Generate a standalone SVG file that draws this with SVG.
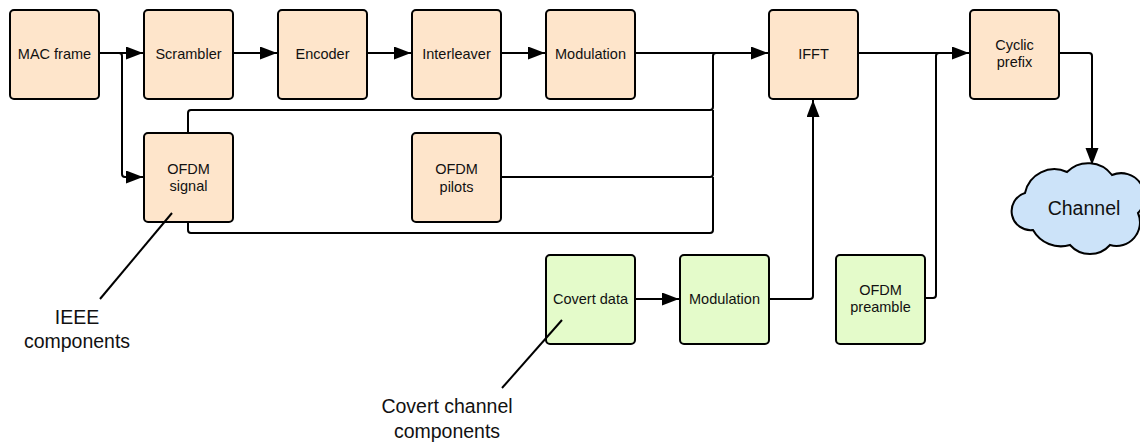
<svg xmlns="http://www.w3.org/2000/svg" width="1140" height="443" viewBox="0 0 1140 443">
  <style>
    .box { stroke: #000; stroke-width: 2; }
    .ieee { fill: #fee5cb; }
    .covert { fill: #e4fbca; }
    .cloud { fill: #cce3f9; stroke: #000; stroke-width: 2; }
    .lbl { font-family: "Liberation Sans", Arial, sans-serif; font-size: 14.5px; fill: #111; text-anchor: middle; }
    .note { font-family: "Liberation Sans", Arial, sans-serif; font-size: 19.5px; fill: #111; text-anchor: middle; }
    .wire { fill: none; stroke: #000; stroke-width: 2; }
    .arrow { marker-end: url(#head); }
  </style>
  <defs>
    <marker id="head" markerUnits="userSpaceOnUse" markerWidth="18" markerHeight="14" refX="17" refY="6.5" orient="auto">
      <path d="M0,0 L17,6.5 L0,13 z" fill="#000"/>
    </marker>
  </defs>
  <rect width="1140" height="443" fill="#fff"/>

  <!-- signal paths -->
  <g id="connectors">
    <path class="wire arrow" d="M99 53 H143"/>
    <path class="wire arrow" d="M99 53 H119 Q122 53 122 56 V174 Q122 177 125 177 H143"/>
    <path class="wire arrow" d="M233 53 H277"/>
    <path class="wire arrow" d="M367 53 H411"/>
    <path class="wire arrow" d="M501 53 H545"/>
    <path class="wire arrow" d="M635 53 H768"/>
    <path class="wire" d="M188 133 V113 Q188 110 191 110 H710 Q713 110 713 107 V56 Q713 53 716 53 H740"/>
    <path class="wire" d="M501 177 H710 Q713 177 713 174 V110"/>
    <path class="wire" d="M188 222 V230 Q188 233 191 233 H710 Q713 233 713 230 V177"/>
    <path class="wire arrow" d="M858 53 H969"/>
    <path class="wire" d="M926 298 H933 Q936 298 936 295 V56 Q936 53 939 53 H950"/>
    <path class="wire arrow" d="M1059 53 H1089 Q1092 53 1092 56 V165"/>
    <path class="wire arrow" d="M635 299 H679"/>
    <path class="wire arrow" d="M769 299 H810 Q813 299 813 296 V100"/>
  </g>

  <g id="mac-frame">
    <rect class="box ieee" x="10" y="10" width="89" height="89" rx="4"/>
    <text class="lbl" x="54.5" y="58.5">MAC frame</text>
  </g>
  <g id="scrambler">
    <rect class="box ieee" x="144" y="10" width="89" height="89" rx="4"/>
    <text class="lbl" x="188.5" y="58.5">Scrambler</text>
  </g>
  <g id="encoder">
    <rect class="box ieee" x="278" y="10" width="89" height="89" rx="4"/>
    <text class="lbl" x="322.5" y="58.5">Encoder</text>
  </g>
  <g id="interleaver">
    <rect class="box ieee" x="412" y="10" width="89" height="89" rx="4"/>
    <text class="lbl" x="456.5" y="58.5">Interleaver</text>
  </g>
  <g id="modulation">
    <rect class="box ieee" x="546" y="10" width="89" height="89" rx="4"/>
    <text class="lbl" x="590.5" y="58.5">Modulation</text>
  </g>
  <g id="ifft">
    <rect class="box ieee" x="769" y="10" width="89" height="89" rx="4"/>
    <text class="lbl" x="813.5" y="58.5">IFFT</text>
  </g>
  <g id="cyclic-prefix">
    <rect class="box ieee" x="970" y="10" width="89" height="89" rx="4"/>
    <text class="lbl" x="1014.5" y="49.5">Cyclic</text>
    <text class="lbl" x="1014.5" y="66.5">prefix</text>
  </g>
  <g id="ofdm-signal">
    <rect class="box ieee" x="144" y="133" width="89" height="89" rx="4"/>
    <text class="lbl" x="188.5" y="174">OFDM</text>
    <text class="lbl" x="188.5" y="191">signal</text>
  </g>
  <g id="ofdm-pilots">
    <rect class="box ieee" x="412" y="133" width="89" height="89" rx="4"/>
    <text class="lbl" x="456.5" y="174">OFDM</text>
    <text class="lbl" x="456.5" y="191.5">pilots</text>
  </g>
  <g id="covert-data">
    <rect class="box covert" x="546" y="255" width="89" height="89" rx="4"/>
    <text class="lbl" x="590.5" y="304">Covert data</text>
  </g>
  <g id="covert-modulation">
    <rect class="box covert" x="680" y="255" width="89" height="89" rx="4"/>
    <text class="lbl" x="724.5" y="304">Modulation</text>
  </g>
  <g id="ofdm-preamble">
    <rect class="box covert" x="836" y="255" width="89" height="89" rx="4"/>
    <text class="lbl" x="880.5" y="294.5">OFDM</text>
    <text class="lbl" x="880.5" y="311.5">preamble</text>
  </g>
  <g id="channel">
    <path class="cloud" d="M1025 193 A30 30 0 0 1 1067 172 A30 30 0 0 1 1112 175 A23.5 23.5 0 0 1 1138 213 A23.5 23.5 0 0 1 1110 245 A26.7 26.7 0 0 1 1070 245 A32 32 0 0 1 1033 230 A19 19 0 0 1 1025 193 Z"/>
    <text class="note" x="1084" y="215">Channel</text>
  </g>

  <!-- callout leaders, drawn over the boxes they point into -->
  <g id="callouts">
    <path class="wire" d="M172 213 L100 299"/>
    <path class="wire" d="M562 320 L502 388"/>
  </g>
  <g id="ieee-note">
    <text class="note" x="77" y="324">IEEE</text>
    <text class="note" x="77" y="348">components</text>
  </g>
  <g id="covert-note">
    <text class="note" x="447" y="413">Covert channel</text>
    <text class="note" x="447" y="438">components</text>
  </g>
</svg>
